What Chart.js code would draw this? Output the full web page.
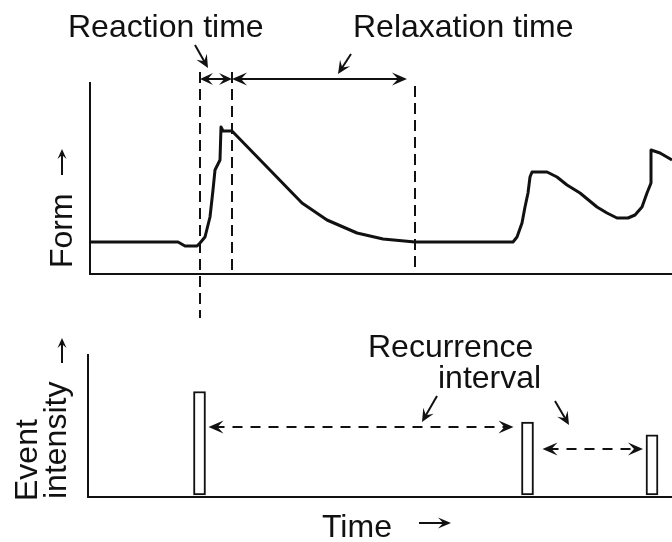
<!DOCTYPE html>
<html>
<head>
<meta charset="utf-8">
<script src="https://cdn.jsdelivr.net/npm/chart.js@4.4.1/dist/chart.umd.min.js"></script>
<style>
    html, body { margin: 0; padding: 0; background: #fff; }
    #wrap { position: relative; width: 672px; height: 542px; overflow: hidden; }
    #formChart { position: absolute; left: 0; top: 0; }
    #eventChart { position: absolute; left: 0; top: 320px; }
</style>
</head>
<body>
<div id="wrap">
    <canvas id="formChart" width="672" height="320"></canvas>
    <canvas id="eventChart" width="672" height="222"></canvas>
</div>
<script>
// Landform response through time (time units along x, form units up y)
const formTimes = [0, 8.8, 9.5, 10.7, 11.0, 11.5, 12.0, 12.3, 12.5, 13.0, 13.1, 13.3, 14.2,
    17.7, 21.2, 23.7, 26.7, 29.3, 32.5, 42.3, 42.7, 43.2, 43.5, 43.8, 44.0, 44.2, 45.7,
    46.7, 47.7, 49.0, 50.7, 51.7, 52.7, 53.8, 54.5, 55.2, 55.7, 56.1, 56.1, 57.0, 58.2];
const formValues = [3.2, 3.2, 2.8, 2.8, 3.1, 3.7, 5.7, 8.4, 10.4, 11.4, 14.7, 14.3, 14.3,
    10.7, 7.1, 5.4, 4.1, 3.5, 3.2, 3.2, 3.7, 5.1, 6.7, 8.1, 9.7, 10.2, 10.2,
    9.7, 8.9, 8.1, 6.7, 6.1, 5.6, 5.6, 5.9, 6.7, 8.1, 9.1, 12.4, 12.1, 11.4];

// Onset of the event, end of reaction (peak), end of relaxation
const phaseTimes = [11.0, 14.2, 32.5];

// Disturbing events
const eventTimes = [10.95, 43.75, 56.2];
const eventIntensity = [10.5, 7.4, 6.1];

const TIME_MAX = 58.2;
const FORM_MAX = 19.1;
const INTENSITY_MAX = 14.2;

const INK = '#111';
const FONT = '"Liberation Sans", Arial, Helvetica, sans-serif';

// Filled arrowhead with its tip at (x, y) pointing along angle
function arrowHead(ctx, x, y, angle, len = 14, half = 6) {
    ctx.save();
    ctx.translate(x, y);
    ctx.rotate(angle);
    ctx.beginPath();
    ctx.moveTo(0, 0);
    ctx.lineTo(-len, -half);
    ctx.lineTo(-len * 0.6, 0);
    ctx.lineTo(-len, half);
    ctx.closePath();
    ctx.fill();
    ctx.restore();
}

// Line from (x1,y1) to (x2,y2) with a head at the end, optionally both ends
function arrow(ctx, x1, y1, x2, y2, opts = {}) {
    const a = Math.atan2(y2 - y1, x2 - x1);
    ctx.save();
    ctx.strokeStyle = INK;
    ctx.fillStyle = INK;
    ctx.lineWidth = opts.width || 2;
    ctx.setLineDash(opts.dash || []);
    ctx.beginPath();
    ctx.moveTo(x1 + (opts.both ? Math.cos(a) * 6 : 0), y1 + (opts.both ? Math.sin(a) * 6 : 0));
    ctx.lineTo(x2 - Math.cos(a) * 6, y2 - Math.sin(a) * 6);
    ctx.stroke();
    ctx.setLineDash([]);
    arrowHead(ctx, x2, y2, a, opts.len, opts.half);
    if (opts.both) arrowHead(ctx, x1, y1, a + Math.PI, opts.len, opts.half);
    ctx.restore();
}

function dashedVertical(ctx, x, yTop, yBottom) {
    ctx.save();
    ctx.strokeStyle = INK;
    ctx.lineWidth = 2;
    ctx.setLineDash([11, 6]);
    ctx.beginPath();
    ctx.moveTo(x, yTop);
    ctx.lineTo(x, yBottom);
    ctx.stroke();
    ctx.restore();
}

function text(ctx, str, x, y, rot = 0, size = 32) {
    ctx.save();
    ctx.fillStyle = INK;
    ctx.font = `${size}px ${FONT}`;
    ctx.textBaseline = 'alphabetic';
    ctx.translate(x, y);
    ctx.rotate(rot);
    ctx.fillText(str, 0, 0);
    ctx.restore();
}

// Phase markers, time spans and labels for the form panel
const formAnnotations = {
    id: 'formAnnotations',
    afterDatasetsDraw(chart) {
        const ctx = chart.ctx;
        const xs = chart.scales.x;
        const [onset, peak, relaxed] = phaseTimes.map(t => xs.getPixelForValue(t));

        dashedVertical(ctx, onset, 72, 318);
        dashedVertical(ctx, peak, 72, 270);
        dashedVertical(ctx, relaxed, 86, 268);

        arrow(ctx, onset, 79, peak, 79, { both: true, len: 13, half: 6 });
        arrow(ctx, peak, 79, relaxed - 8, 79, { both: true, len: 15, half: 6.5 });

        arrow(ctx, 195, 45, 208, 68, { len: 13, half: 6 });
        arrow(ctx, 351, 54, 338, 74, { len: 13, half: 6 });

        text(ctx, 'Reaction time', 68, 37);
        text(ctx, 'Relaxation time', 353, 37);

        text(ctx, 'Form', 72, 268, -Math.PI / 2);
        arrow(ctx, 62, 175, 62, 149, { len: 10, half: 4.5 });
    }
};

// Recurrence intervals and labels for the event panel
const eventAnnotations = {
    id: 'eventAnnotations',
    afterDatasetsDraw(chart) {
        const ctx = chart.ctx;
        const bars = chart.getDatasetMeta(0).data;
        const edges = bars.map(b => [b.x - b.width / 2, b.x + b.width / 2]);

        arrow(ctx, edges[0][1] + 3, 107, edges[1][0] - 8, 107,
            { both: true, dash: [10, 8], len: 15, half: 6.5 });
        arrow(ctx, edges[1][1] + 9, 129, edges[2][0] - 3, 129,
            { both: true, dash: [10, 8], len: 15, half: 6.5 });

        arrow(ctx, 437, 76, 422, 102, { len: 13, half: 6 });
        arrow(ctx, 555, 81, 569, 105, { len: 13, half: 6 });

        text(ctx, 'Recurrence', 368, 37);
        text(ctx, 'interval', 438, 68);

        text(ctx, 'Event', 37, 181, -Math.PI / 2);
        text(ctx, 'intensity', 66, 179, -Math.PI / 2);
        arrow(ctx, 62, 43, 62, 18, { len: 10, half: 4.5 });

        text(ctx, 'Time', 322, 217);
        arrow(ctx, 419, 203, 451, 203, { len: 13, half: 5.5 });
    }
};

// Axis lines only: no ticks, no grid, no reserved space
function bareAxis(min, max, horizontal) {
    return {
        type: 'linear',
        min: min,
        max: max,
        offset: false,
        ticks: { display: false },
        grid: { display: false, drawTicks: false, offset: false },
        border: { display: true, color: INK, width: 2 },
        afterFit: s => { if (horizontal) s.height = 0; else s.width = 0; }
    };
}

new Chart(document.getElementById('formChart'), {
    type: 'line',
    data: {
        datasets: [{
            data: formTimes.map((t, i) => ({ x: t, y: formValues[i] })),
            borderColor: INK,
            borderWidth: 3,
            pointRadius: 0,
            tension: 0,
            borderJoinStyle: 'round',
            fill: false
        }]
    },
    options: {
        responsive: false,
        animation: false,
        events: [],
        layout: { padding: { left: 90, top: 83, right: 0, bottom: 46 } },
        plugins: { legend: { display: false }, tooltip: { enabled: false } },
        scales: {
            x: bareAxis(0, TIME_MAX, true),
            y: bareAxis(0, FORM_MAX, false)
        }
    },
    plugins: [formAnnotations]
});

new Chart(document.getElementById('eventChart'), {
    type: 'bar',
    data: {
        datasets: [{
            data: eventTimes.map((t, i) => ({ x: t, y: eventIntensity[i] })),
            backgroundColor: '#fff',
            borderColor: INK,
            borderWidth: 2,
            borderSkipped: false,
            barThickness: 12,
            grouped: false
        }]
    },
    options: {
        responsive: false,
        animation: false,
        events: [],
        layout: { padding: { left: 88, top: 35, right: 0, bottom: 45 } },
        plugins: { legend: { display: false }, tooltip: { enabled: false } },
        scales: {
            x: bareAxis(-0.2, TIME_MAX, true),
            y: bareAxis(-0.2, INTENSITY_MAX, false)
        }
    },
    plugins: [eventAnnotations]
});
</script>
</body>
</html>
